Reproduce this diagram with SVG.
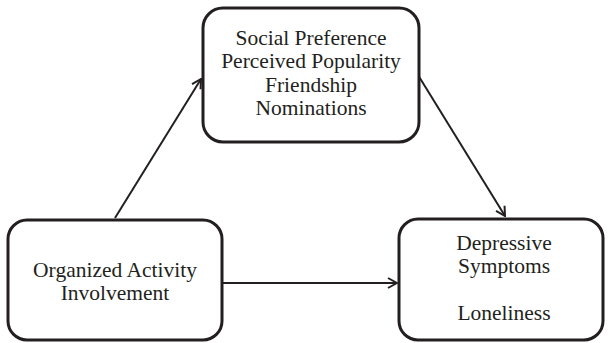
<svg xmlns="http://www.w3.org/2000/svg" width="608" height="343" viewBox="0 0 608 343">
<style>
.box{fill:#fff;stroke:#231f20;stroke-width:3}
.lbl{font-family:"Liberation Serif","DejaVu Serif",serif;font-size:21.5px;fill:#231f20;text-anchor:middle}
.edge{stroke:#231f20;stroke-width:2;fill:none}
</style>
<defs>
<marker id="arr" viewBox="0 0 12 12" refX="11" refY="6" markerWidth="12" markerHeight="12" markerUnits="userSpaceOnUse" orient="auto">
<path d="M2,1 L11,6 L2,11" fill="none" stroke="#231f20" stroke-width="2"/>
</marker>
</defs>
<rect width="608" height="343" fill="#fff"/>
<g id="connectors">
<line class="edge" x1="115" y1="218" x2="201" y2="79" marker-end="url(#arr)"/>
<line class="edge" x1="418" y1="75" x2="505" y2="216" marker-end="url(#arr)"/>
<line class="edge" x1="223" y1="283" x2="397" y2="283" marker-end="url(#arr)"/>
</g>
<g id="node-peer">
<rect class="box" x="203" y="8" width="216" height="134" rx="20"/>
<text class="lbl" x="311" y="45">Social Preference</text>
<text class="lbl" x="311" y="68">Perceived Popularity</text>
<text class="lbl" x="311" y="92">Friendship</text>
<text class="lbl" x="311" y="115">Nominations</text>
</g>
<g id="node-activity">
<rect class="box" x="8" y="220" width="214" height="120" rx="19"/>
<text class="lbl" x="115" y="277">Organized Activity</text>
<text class="lbl" x="115" y="300">Involvement</text>
</g>
<g id="node-outcomes">
<rect class="box" x="399" y="219" width="204" height="121" rx="19"/>
<text class="lbl" x="504" y="250">Depressive</text>
<text class="lbl" x="504" y="273">Symptoms</text>
<text class="lbl" x="504" y="320">Loneliness</text>
</g>
</svg>
